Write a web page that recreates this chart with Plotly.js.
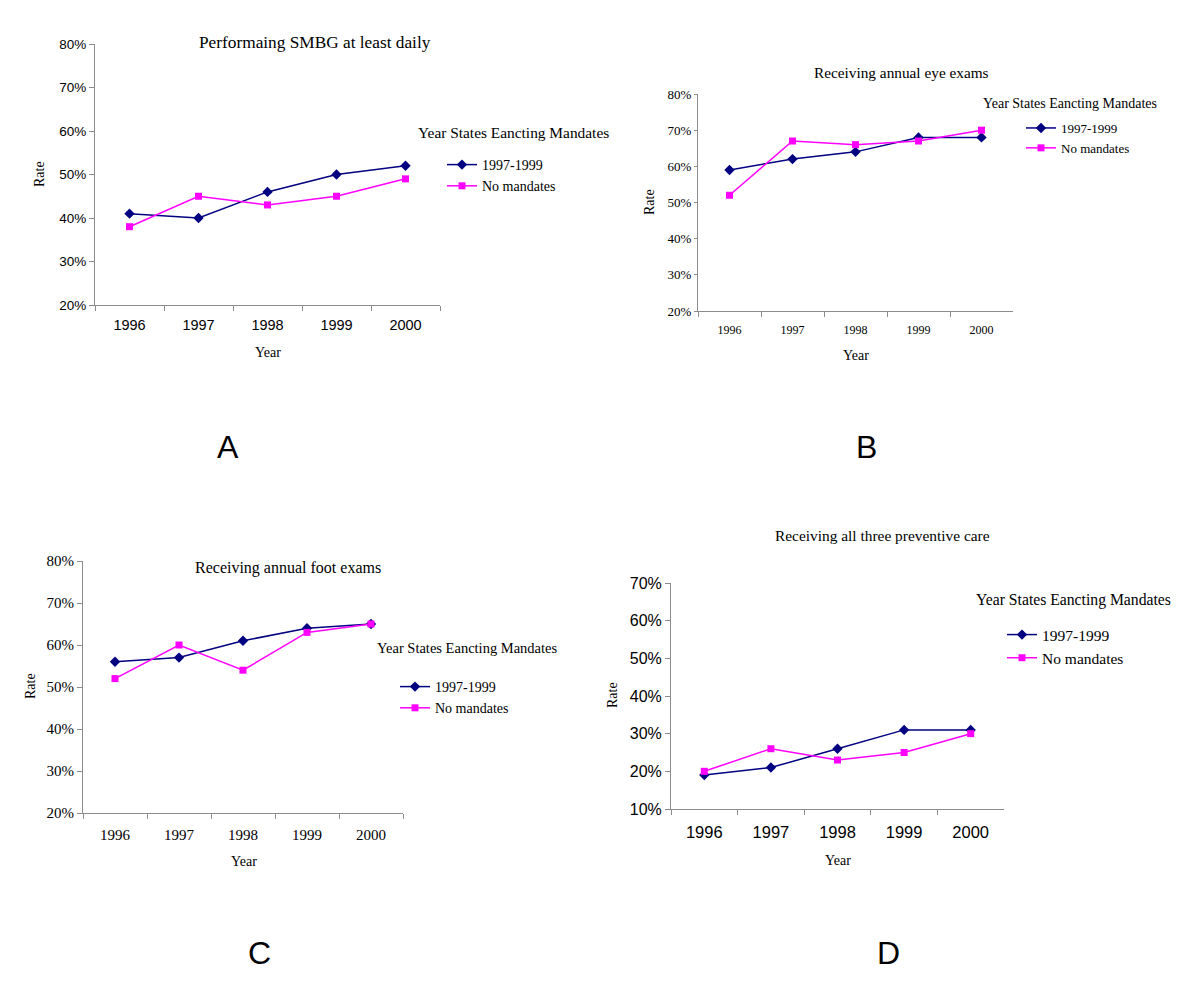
<!DOCTYPE html>
<html>
<head>
<meta charset="utf-8">
<script src="https://cdn.plot.ly/plotly-3.0.1.min.js"></script>
<style>
  body { margin: 0; background: #fff; }
  #chart { width: 1200px; height: 1000px; }
</style>
</head>
<body>
<div id="chart"></div>
<script>
// values (fractions, shown as %)
const years = ['1996', '1997', '1998', '1999', '2000']
const seriesNames = ['1997-1999', 'No mandates']
const legendTitle = 'Year States Eancting Mandates'

const smbgMandates = [0.41, 0.40, 0.46, 0.50, 0.52]
const smbgNone = [0.38, 0.45, 0.43, 0.45, 0.49]

const eyeMandates = [0.59, 0.62, 0.64, 0.68, 0.68]
const eyeNone = [0.52, 0.67, 0.66, 0.67, 0.70]

const footMandates = [0.56, 0.57, 0.61, 0.64, 0.65]
const footNone = [0.52, 0.60, 0.54, 0.63, 0.65]

const allThreeMandates = [0.19, 0.21, 0.26, 0.31, 0.31]
const allThreeNone = [0.20, 0.26, 0.23, 0.25, 0.30]

const panelTitles = [
    'Performaing SMBG at least daily',
    'Receiving annual eye exams',
    'Receiving annual foot exams',
    'Receiving all three preventive care',
]
const panelLetters = ['A', 'B', 'C', 'D']
const yRanges = [[0.2, 0.8], [0.2, 0.8], [0.2, 0.8], [0.1, 0.7]]

const SANS = 'Liberation Sans, Arial, sans-serif'
const SERIF = 'Liberation Serif, Times New Roman, serif'
const NAVY = '#000080'
const PINK = '#ff00ff'
const AXIS = '#8c8c8c'

const W = 1200, H = 1000
const px = x => x / W
const py = y => 1 - y / H

// pixel boxes of each panel, taken from the reference layout
const panels = [
    {
        box: [95, 440, 44, 305], yFont: {family: SANS, size: 13.5}, xFont: {family: SANS, size: 14.5},
        yTickLen: 5, xStandoff: 7,
        title: [315, 42, 17.3], rate: [40, 174], year: [268, 352], letter: [228, 447],
        legTitle: [416, 132, 15.4], legend: [442, 149], legFont: 14,
        mandates: smbgMandates, none: smbgNone,
    },
    {
        box: [698, 1013, 94, 311], yFont: {family: SERIF, size: 13}, xFont: {family: SERIF, size: 12},
        yTickLen: 3, xStandoff: 8,
        title: [901, 73, 15.3], rate: [650, 202], year: [856, 355], letter: [866, 447],
        legTitle: [981, 104, 14], legend: [1021, 113], legFont: 13,
        mandates: eyeMandates, none: eyeNone,
    },
    {
        box: [83, 403, 561, 813], yFont: {family: SERIF, size: 15}, xFont: {family: SERIF, size: 15},
        yTickLen: 5, xStandoff: 8,
        title: [288, 568, 16], rate: [30, 686], year: [244, 861], letter: [259, 953],
        legTitle: [375, 648, 14.5], legend: [395, 671], legFont: 14,
        mandates: footMandates, none: footNone,
    },
    {
        box: [671, 1004, 583, 809], yFont: {family: SANS, size: 16}, xFont: {family: SANS, size: 16.5},
        yTickLen: 5, xStandoff: 8,
        title: [882, 535, 15.4], rate: [612, 695], year: [838, 860], letter: [888, 953],
        legTitle: [974, 600, 15.7], legend: [1002, 618], legFont: 15.5,
        mandates: allThreeMandates, none: allThreeNone,
    },
]

const data = []
const annotations = []
const layout = {
    width: W,
    height: H,
    margin: {l: 0, r: 0, t: 0, b: 0},
    paper_bgcolor: '#fff',
    plot_bgcolor: '#fff',
    showlegend: true,
}

panels.forEach((p, i) => {
    const n = i === 0 ? '' : String(i + 1)
    const legendKey = 'legend' + n

    data.push({
        x: years, y: p.mandates, type: 'scatter', mode: 'lines+markers',
        name: seriesNames[0], xaxis: 'x' + n, yaxis: 'y' + n, legend: legendKey,
        line: {color: NAVY, width: 1.5},
        marker: {symbol: 'diamond', size: 8, color: NAVY},
    })
    data.push({
        x: years, y: p.none, type: 'scatter', mode: 'lines+markers',
        name: seriesNames[1], xaxis: 'x' + n, yaxis: 'y' + n, legend: legendKey,
        line: {color: PINK, width: 1.5},
        marker: {symbol: 'square', size: 7, color: PINK},
    })

    const [x0, x1, y0, y1] = p.box
    layout['xaxis' + n] = {
        domain: [px(x0), px(x1)],
        anchor: 'y' + n,
        type: 'category',
        range: [-0.5, 4.5],
        tickson: 'boundaries',
        ticks: 'outside',
        ticklen: 5,
        tickcolor: AXIS,
        ticklabelstandoff: p.xStandoff,
        showline: true,
        linecolor: AXIS,
        linewidth: 1,
        showgrid: false,
        zeroline: false,
        tickfont: Object.assign({color: '#000'}, p.xFont),
    }
    layout['yaxis' + n] = {
        domain: [py(y1), py(y0)],
        anchor: 'x' + n,
        range: yRanges[i],
        dtick: 0.1,
        tickformat: '.0%',
        ticks: 'outside',
        ticklen: p.yTickLen,
        tickcolor: AXIS,
        showline: true,
        linecolor: AXIS,
        linewidth: 1,
        showgrid: false,
        zeroline: false,
        tickfont: Object.assign({color: '#000'}, p.yFont),
    }
    layout[legendKey] = {
        x: px(p.legend[0]),
        y: py(p.legend[1]),
        xanchor: 'left',
        yanchor: 'top',
        bgcolor: 'rgba(0,0,0,0)',
        font: {family: SERIF, size: p.legFont, color: '#000'},
        tracegroupgap: 0,
    }

    annotations.push({
        text: panelTitles[i], x: px(p.title[0]), y: py(p.title[1]),
        xref: 'paper', yref: 'paper', xanchor: 'center', yanchor: 'middle', showarrow: false,
        font: {family: SERIF, size: p.title[2], color: '#000'},
    })
    annotations.push({
        text: 'Rate', x: px(p.rate[0]), y: py(p.rate[1]), textangle: -90,
        xref: 'paper', yref: 'paper', xanchor: 'center', yanchor: 'middle', showarrow: false,
        font: {family: SERIF, size: 14, color: '#000'},
    })
    annotations.push({
        text: 'Year', x: px(p.year[0]), y: py(p.year[1]),
        xref: 'paper', yref: 'paper', xanchor: 'center', yanchor: 'middle', showarrow: false,
        font: {family: SERIF, size: 14, color: '#000'},
    })
    annotations.push({
        text: legendTitle, x: px(p.legTitle[0]), y: py(p.legTitle[1]),
        xref: 'paper', yref: 'paper', xanchor: 'left', yanchor: 'middle', showarrow: false,
        font: {family: SERIF, size: p.legTitle[2], color: '#000'},
    })
    annotations.push({
        text: panelLetters[i], x: px(p.letter[0]), y: py(p.letter[1]),
        xref: 'paper', yref: 'paper', xanchor: 'center', yanchor: 'middle', showarrow: false,
        font: {family: SANS, size: 32, color: '#000'},
    })
})

layout.annotations = annotations

Plotly.newPlot('chart', data, layout, {displayModeBar: false, staticPlot: true})
</script>
</body>
</html>
